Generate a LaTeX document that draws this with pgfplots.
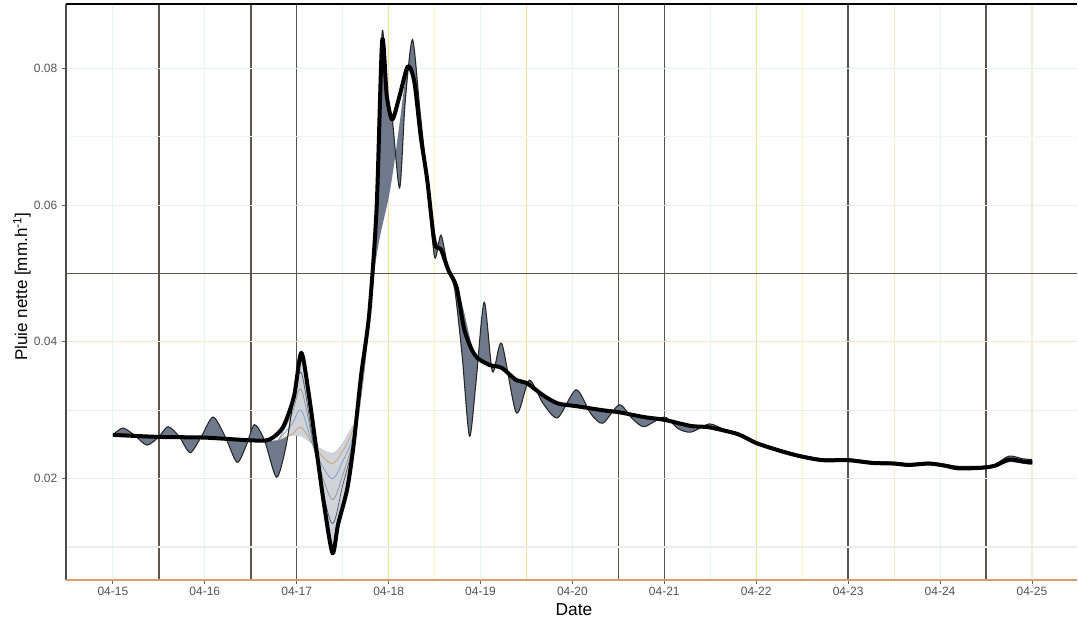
\documentclass[border=0pt]{standalone}
\usepackage{pgfplots}
\pgfplotsset{compat=1.18}
\usepackage{pgfplotstable}
\usepackage{fontspec}
\setmainfont{Liberation Sans}

\definecolor{gcyan}{HTML}{E2F6F6}
\definecolor{gcyanl}{HTML}{EEFAFA}
\definecolor{gdark}{HTML}{5E544C}
\definecolor{gblack}{HTML}{555555}
\definecolor{gorange}{HTML}{FFDC9C}
\definecolor{gyellow}{HTML}{FFF3BE}
\definecolor{gpeach}{HTML}{FBE6CE}
\definecolor{glight}{HTML}{ECEEEE}
\definecolor{gbeige}{HTML}{F2EEDA}
\definecolor{axtan}{HTML}{D6A06E}
\definecolor{spreadmid}{HTML}{6E7A8C}
\definecolor{spreadlight}{HTML}{D0D4DA}
\definecolor{memtan}{HTML}{C9A47A}
\definecolor{memblue}{HTML}{7AA0C8}
\definecolor{memgray}{HTML}{969696}
\definecolor{memslate}{HTML}{506070}

\begin{document}

% outer (wiggly) member of the ensemble
\pgfplotstableread{
x y
15.00 0.0264
15.11 0.0274
15.24 0.0263
15.37 0.0249
15.50 0.0261
15.60 0.0276
15.72 0.0262
15.84 0.0238
15.96 0.0261
16.09 0.0290
16.22 0.0262
16.35 0.0224
16.45 0.0248
16.54 0.0279
16.65 0.0256
16.78 0.0202
16.88 0.0245
16.97 0.0320
17.05 0.0384
17.13 0.0325
17.22 0.0237
17.30 0.0160
17.39 0.0091
17.45 0.0133
17.55 0.0185
17.62 0.0250
17.70 0.0350
17.79 0.0442
17.87 0.0597
17.93 0.0853
17.98 0.0760
18.04 0.0725
18.12 0.0625
18.18 0.0750
18.26 0.0842
18.34 0.0740
18.42 0.0637
18.50 0.0524
18.57 0.0556
18.65 0.0505
18.72 0.0476
18.80 0.0380
18.88 0.0262
18.95 0.0340
19.04 0.0458
19.13 0.0356
19.23 0.0398
19.39 0.0296
19.53 0.0344
19.68 0.0310
19.84 0.0289
20.04 0.0330
20.20 0.0295
20.33 0.0281
20.51 0.0308
20.65 0.0288
20.78 0.0276
21.00 0.0290
21.15 0.0273
21.29 0.0268
21.49 0.0280
21.65 0.0272
21.80 0.0267
22.00 0.0254
22.25 0.0243
22.47 0.0235
22.72 0.0229
23.00 0.0229
23.26 0.0225
23.50 0.0224
23.66 0.0222
23.88 0.0224
24.05 0.0221
24.20 0.0218
24.46 0.0218
24.60 0.0221
24.75 0.0233
24.90 0.0229
25.00 0.0228
}\eone

% whole spread: outer member forward, other extreme back
\pgfplotstableread{
x y
15.00 0.0264
15.11 0.0274
15.24 0.0263
15.37 0.0249
15.50 0.0261
15.60 0.0276
15.72 0.0262
15.84 0.0238
15.96 0.0261
16.09 0.0290
16.22 0.0262
16.35 0.0224
16.45 0.0248
16.54 0.0279
16.65 0.0256
16.78 0.0202
16.88 0.0245
16.97 0.0320
17.05 0.0384
17.13 0.0325
17.22 0.0237
17.30 0.0160
17.39 0.0091
17.45 0.0133
17.55 0.0185
17.62 0.0250
17.70 0.0350
17.79 0.0442
17.87 0.0597
17.93 0.0853
17.98 0.0760
18.04 0.0725
18.12 0.0625
18.18 0.0750
18.26 0.0842
18.34 0.0740
18.42 0.0637
18.50 0.0524
18.57 0.0556
18.65 0.0505
18.72 0.0476
18.80 0.0380
18.88 0.0262
18.95 0.0340
19.04 0.0458
19.13 0.0356
19.23 0.0398
19.39 0.0296
19.53 0.0344
19.68 0.0310
19.84 0.0289
20.04 0.0330
20.20 0.0295
20.33 0.0281
20.51 0.0308
20.65 0.0288
20.78 0.0276
21.00 0.0290
21.15 0.0273
21.29 0.0268
21.49 0.0280
21.65 0.0272
21.80 0.0267
22.00 0.0254
22.25 0.0243
22.47 0.0235
22.72 0.0229
23.00 0.0229
23.26 0.0225
23.50 0.0224
23.66 0.0222
23.88 0.0224
24.05 0.0221
24.20 0.0218
24.46 0.0218
24.60 0.0221
24.75 0.0233
24.90 0.0229
25.00 0.0228
25.00 0.0220
24.90 0.0222
24.75 0.0224
24.60 0.0217
24.46 0.0215
24.20 0.0214
24.05 0.0218
23.88 0.0221
23.66 0.0219
23.50 0.0221
23.26 0.0222
23.00 0.0226
22.72 0.0226
22.47 0.0232
22.25 0.0240
22.00 0.0251
21.80 0.0264
21.49 0.0274
21.29 0.0276
21.00 0.0285
20.78 0.0290
20.51 0.0297
20.33 0.0300
20.04 0.0305
19.84 0.0310
19.68 0.0322
19.50 0.0340
19.39 0.0344
19.23 0.0363
19.10 0.0366
18.97 0.0376
18.90 0.0398
18.80 0.0455
18.70 0.0495
18.60 0.0520
18.50 0.0560
18.42 0.0637
18.30 0.0770
18.21 0.0803
18.12 0.0720
18.06 0.0660
18.00 0.0610
17.90 0.0550
17.82 0.0480
17.75 0.0380
17.68 0.0296
17.60 0.0275
17.50 0.0252
17.39 0.0237
17.20 0.0248
17.05 0.0262
16.90 0.0262
16.78 0.0256
16.50 0.0256
16.00 0.0260
15.50 0.0261
15.00 0.0264
}\spread

% light part of the spread around the 04-17 dip
\pgfplotstableread{
x y
16.88 0.0245
16.97 0.0320
17.05 0.0384
17.13 0.0325
17.22 0.0237
17.30 0.0160
17.39 0.0091
17.45 0.0133
17.55 0.0185
17.62 0.0250
17.70 0.0350
17.75 0.0395
17.68 0.0296
17.60 0.0275
17.50 0.0252
17.39 0.0237
17.20 0.0248
17.05 0.0262
16.90 0.0262
}\lightspread

% dense black bundle
\pgfplotstableread{
x y
15.00 0.0264
15.50 0.0261
16.00 0.0260
16.50 0.0256
16.70 0.0257
16.85 0.0275
16.97 0.0320
17.05 0.0384
17.13 0.0325
17.22 0.0237
17.30 0.0160
17.39 0.0091
17.45 0.0133
17.55 0.0185
17.62 0.0250
17.70 0.0350
17.79 0.0442
17.87 0.0597
17.93 0.0840
17.98 0.0760
18.04 0.0725
18.12 0.0760
18.21 0.0803
18.28 0.0780
18.35 0.0700
18.42 0.0637
18.50 0.0545
18.57 0.0535
18.65 0.0505
18.74 0.0480
18.82 0.0420
18.90 0.0390
18.97 0.0376
19.10 0.0366
19.23 0.0362
19.39 0.0344
19.50 0.0340
19.68 0.0322
19.84 0.0310
20.04 0.0306
20.33 0.0300
20.51 0.0297
20.78 0.0290
21.00 0.0286
21.29 0.0277
21.49 0.0275
21.80 0.0265
22.00 0.0252
22.25 0.0241
22.47 0.0233
22.72 0.0227
23.00 0.0227
23.26 0.0223
23.50 0.0222
23.66 0.0220
23.88 0.0222
24.05 0.0219
24.20 0.0215
24.46 0.0216
24.60 0.0219
24.75 0.0228
24.90 0.0225
25.00 0.0224
}\bundle

\begin{tikzpicture}
\path[use as bounding box] (-49.5pt,-30pt) rectangle (759pt,435pt);
\begin{axis}[
    at={(0pt,0pt)}, anchor=south west,
    scale only axis,
    width=758.25pt, height=432pt,
    xmin=14.49, xmax=25.49,
    ymin=0.00518, ymax=0.0894,
    axis line style={draw=none},
    clip=false,
    tick align=outside,
    major tick length=3pt,
    tick style={color=black!60, line width=0.6pt},
    xtick pos=bottom, ytick pos=left,
    xtick={15,16,17,18,19,20,21,22,23,24,25},
    xticklabels={04-15,04-16,04-17,04-18,04-19,04-20,04-21,04-22,04-23,04-24,04-25},
    ytick={0.02,0.04,0.06,0.08},
    yticklabels={0.02,0.04,0.06,0.08},
    ticklabel style={font=\fontsize{9}{10}\selectfont, text=black!68},
    xticklabel style={yshift=1pt},
    scaled y ticks=false,
]
% panel grid, each line with its own colour
\draw[gcyan, line width=0.8pt] (axis cs:15,0.00518) -- (axis cs:15,0.0894);
\draw[gdark, line width=1.2pt] (axis cs:15.5,0.00518) -- (axis cs:15.5,0.0894);
\draw[gcyan, line width=0.8pt] (axis cs:16,0.00518) -- (axis cs:16,0.0894);
\draw[gdark, line width=1.2pt] (axis cs:16.5,0.00518) -- (axis cs:16.5,0.0894);
\draw[gblack, line width=1.1pt] (axis cs:17,0.00518) -- (axis cs:17,0.0894);
\draw[gcyan, line width=0.8pt] (axis cs:17.5,0.00518) -- (axis cs:17.5,0.0894);
\draw[gorange, line width=0.8pt] (axis cs:18,0.00518) -- (axis cs:18,0.0894);
\draw[gyellow, line width=0.8pt] (axis cs:18.5,0.00518) -- (axis cs:18.5,0.0894);
\draw[gcyan, line width=0.8pt] (axis cs:19,0.00518) -- (axis cs:19,0.0894);
\draw[gorange, line width=0.8pt] (axis cs:19.5,0.00518) -- (axis cs:19.5,0.0894);
\draw[gcyan, line width=0.8pt] (axis cs:20,0.00518) -- (axis cs:20,0.0894);
\draw[gdark, line width=1.2pt] (axis cs:20.5,0.00518) -- (axis cs:20.5,0.0894);
\draw[gblack, line width=1.1pt] (axis cs:21,0.00518) -- (axis cs:21,0.0894);
\draw[gcyan, line width=0.8pt] (axis cs:21.5,0.00518) -- (axis cs:21.5,0.0894);
\draw[gorange, line width=0.8pt] (axis cs:22,0.00518) -- (axis cs:22,0.0894);
\draw[gyellow, line width=0.8pt] (axis cs:22.5,0.00518) -- (axis cs:22.5,0.0894);
\draw[gblack, line width=1.1pt] (axis cs:23,0.00518) -- (axis cs:23,0.0894);
\draw[gpeach, line width=0.8pt] (axis cs:23.5,0.00518) -- (axis cs:23.5,0.0894);
\draw[gcyan, line width=0.8pt] (axis cs:24,0.00518) -- (axis cs:24,0.0894);
\draw[gdark, line width=1.2pt] (axis cs:24.5,0.00518) -- (axis cs:24.5,0.0894);
\draw[gbeige, line width=0.8pt] (axis cs:25,0.00518) -- (axis cs:25,0.0894);
\draw[glight, line width=0.8pt] (axis cs:14.49,0.01) -- (axis cs:25.49,0.01);
\draw[glight, line width=0.8pt] (axis cs:14.49,0.02) -- (axis cs:25.49,0.02);
\draw[glight, line width=0.8pt] (axis cs:14.49,0.03) -- (axis cs:25.49,0.03);
\draw[gpeach, line width=0.8pt] (axis cs:14.49,0.04) -- (axis cs:25.49,0.04);
\draw[gdark, line width=1.1pt] (axis cs:14.49,0.05) -- (axis cs:25.49,0.05);
\draw[glight, line width=0.8pt] (axis cs:14.49,0.06) -- (axis cs:25.49,0.06);
\draw[gcyanl, line width=0.8pt] (axis cs:14.49,0.07) -- (axis cs:25.49,0.07);
\draw[gcyan, line width=0.8pt] (axis cs:14.49,0.08) -- (axis cs:25.49,0.08);

% ensemble spread
\addplot[draw=none, fill=spreadmid, smooth, tension=0.45] table {\spread} -- cycle;
\addplot[draw=none, fill=spreadlight, smooth, tension=0.45] table {\lightspread} -- cycle;

% a few visible members of the spread
\addplot[color=memtan, line width=0.6pt, smooth] coordinates {
(16.80,0.0256) (16.95,0.0265) (17.05,0.0275) (17.20,0.0245) (17.38,0.0222) (17.50,0.0240) (17.62,0.0275) (17.72,0.0340) (17.80,0.0450)};
\addplot[color=memblue, line width=0.6pt, smooth] coordinates {
(16.80,0.0256) (16.95,0.0280) (17.05,0.0300) (17.20,0.0240) (17.38,0.0200) (17.50,0.0225) (17.62,0.0265) (17.72,0.0345) (17.80,0.0450)};
\addplot[color=memgray, line width=0.6pt, smooth] coordinates {
(16.80,0.0256) (16.95,0.0295) (17.05,0.0330) (17.20,0.0240) (17.38,0.0170) (17.50,0.0205) (17.62,0.0260) (17.72,0.0350)};
\addplot[color=memslate, line width=0.6pt, smooth] coordinates {
(16.95,0.0310) (17.05,0.0355) (17.20,0.0238) (17.38,0.0135) (17.50,0.0190) (17.62,0.0255) (17.72,0.0355)};

% outer member and dense black bundle
\addplot[black!85, line width=0.8pt, smooth, tension=0.45] table {\eone};
\addplot[black, line width=3pt, smooth, tension=0.45, line join=round] table {\bundle};

% panel border
\draw[black!70, line width=1pt] (rel axis cs:0,0) -- (rel axis cs:0,1);
\draw[black, line width=1.2pt] (rel axis cs:0,1) -- (rel axis cs:1,1);
\draw[axtan, line width=1pt] (rel axis cs:0,0) -- (rel axis cs:1,0);
\end{axis}
\node[font=\fontsize{13}{15}\selectfont] at (381pt,-22pt) {Date};
\node[font=\fontsize{12.75}{15}\selectfont, rotate=90] at (-33pt,220pt) {Pluie nette [mm.h\textsuperscript{-1}]};
\end{tikzpicture}
\end{document}
